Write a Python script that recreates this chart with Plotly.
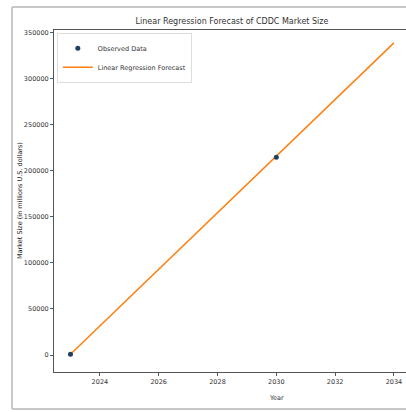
import plotly.graph_objects as go

# Data
observed_years = [2023, 2030]
observed_values = [800, 214500]
forecast_years = [2023, 2024, 2025, 2026, 2027, 2028, 2029, 2030, 2031, 2032, 2033, 2034]
forecast_values = [800, 31500, 62200, 92900, 123600, 154300, 185000, 215700, 246400, 277100, 307800, 338500]
x_ticks = [2024, 2026, 2028, 2030, 2032, 2034]
y_ticks = [0, 50000, 100000, 150000, 200000, 250000, 300000, 350000]

FONT = "DejaVu Sans"
W, H = 406, 412
L, R, T, B = 54, 0, 30, 40
pw, ph = W - L - R, H - T - B

fig = go.Figure()
fig.add_trace(go.Scatter(x=forecast_years, y=forecast_values, mode="lines",
                         line=dict(color="#ff7f0e", width=1.5),
                         name="Linear Regression Forecast"))
fig.add_trace(go.Scatter(x=observed_years, y=observed_values, mode="markers",
                         marker=dict(color="#1f3f5f", size=5),
                         name="Observed Data"))

fig.update_layout(
    width=W, height=H,
    margin=dict(l=L, r=R, t=T, b=B, autoexpand=False),
    paper_bgcolor="white", plot_bgcolor="white",
    font=dict(family=FONT, size=6.5, color="#333"),
    title=dict(text="Linear Regression Forecast of CDDC Market Size",
               x=232 / W, xanchor="center", y=1 - 21/H, yanchor="middle",
               font=dict(size=8, color="#333", family=FONT)),
    xaxis=dict(range=[2022.44, 2034.41], tickvals=x_ticks, ticktext=[str(t) for t in x_ticks],
               showgrid=False, zeroline=False, showline=True, linecolor="#555", linewidth=1,
               ticks="outside", ticklen=3, tickcolor="#555", mirror=True, automargin=False,
               tickfont=dict(size=6.5)),
    yaxis=dict(range=[-18400, 352500], tickvals=y_ticks, ticktext=[str(t) for t in y_ticks],
               showgrid=False, zeroline=False, showline=True, linecolor="#555", linewidth=1,
               ticks="outside", ticklen=3, tickcolor="#555", mirror=False, automargin=False,
               tickfont=dict(size=6.5)),
    legend=dict(x=0.008, y=0.992, xanchor="left", yanchor="top",
                bgcolor="rgba(255,255,255,0.8)", bordercolor="#ddd", borderwidth=1,
                font=dict(size=6.5, family=FONT), traceorder="reversed",
                itemwidth=30, tracegroupgap=0),
    showlegend=True,
    annotations=[
        dict(text="Year", xref="paper", yref="paper", x=(276 - L) / pw, y=(H - B - 398) / ph,
             showarrow=False, xanchor="center", yanchor="middle",
             font=dict(size=6.5, family=FONT, color="#333")),
        dict(text="Market Size (in millions U.S. dollars)", xref="paper", yref="paper",
             x=(20 - L) / pw, y=0.5, textangle=-90, showarrow=False,
             xanchor="center", yanchor="middle",
             font=dict(size=6.5, family=FONT, color="#222")),
    ],
)
fx0, fx1 = (12 - L) / pw, 1.0
fy0, fy1 = (H - B - 409) / ph, (H - B - 7) / ph
for x0, y0, x1, y1 in [(fx0, fy1, fx1, fy1), (fx0, fy0, fx1, fy0), (fx0, fy0, fx0, fy1)]:
    fig.add_shape(type="line", xref="paper", yref="paper", x0=x0, y0=y0, x1=x1, y1=y1,
                  line=dict(color="#c8c8c8", width=2), layer="above")
fig.write_html("out.html", config={"displayModeBar": False},
               post_script="document.body.style.margin='0';document.body.style.overflow='hidden';")
